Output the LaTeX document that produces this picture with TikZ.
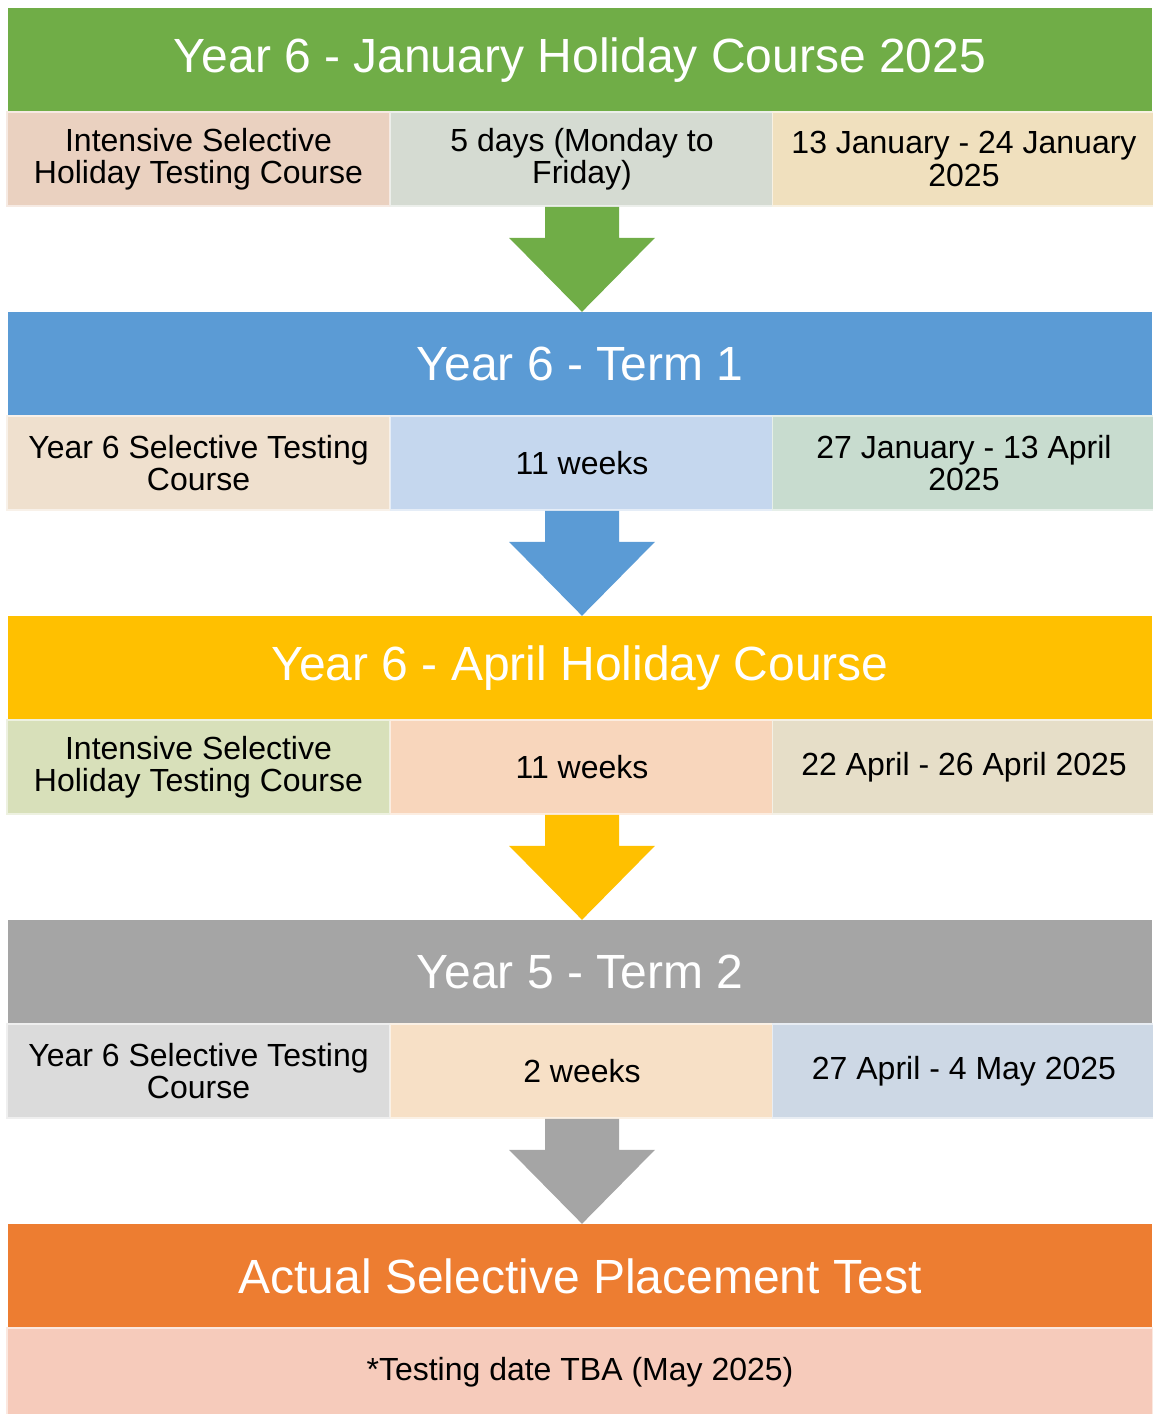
\documentclass[tikz,border=0pt]{standalone}
\usepackage{fontspec}
\setmainfont{Liberation Sans}
\definecolor{hdgreen}{HTML}{70AD47}
\definecolor{hdblue}{HTML}{5B9BD5}
\definecolor{hdgold}{HTML}{FFC000}
\definecolor{hdgrey}{HTML}{A5A5A5}
\definecolor{hdorange}{HTML}{ED7D31}
\definecolor{cellrose}{HTML}{EAD1C0}
\definecolor{cellsage}{HTML}{D5DBD2}
\definecolor{cellwheat}{HTML}{F0E0BE}
\definecolor{cellsand}{HTML}{EFE0CE}
\definecolor{cellsky}{HTML}{C5D7EE}
\definecolor{cellmint}{HTML}{C8DCCF}
\definecolor{cellolive}{HTML}{D8E0BA}
\definecolor{cellpeach}{HTML}{F8D6BC}
\definecolor{cellbeige}{HTML}{E6DEC8}
\definecolor{cellsilver}{HTML}{DBDBDB}
\definecolor{cellcream}{HTML}{F7E0C6}
\definecolor{cellsteel}{HTML}{CDD8E5}
\definecolor{cellsalmon}{HTML}{F6CBBB}
\newcommand{\flowarrow}[3]{\fill[#1] ([xshift=-37pt]#2.south) -- ([xshift=-37pt,yshift=-31pt]#2.south) -- ([xshift=-73pt,yshift=-31pt]#2.south) -- (#2.south |- #3.north) -- ([xshift=73pt,yshift=-31pt]#2.south) -- ([xshift=37pt,yshift=-31pt]#2.south) -- ([xshift=37pt]#2.south) -- cycle;}

\begin{document}
\begin{tikzpicture}[x=1pt,y=-1pt,
  head/.style={fill=#1,text=white,minimum width=1144pt,minimum height=104pt,inner sep=0pt,font=\fontsize{48}{54}\selectfont},
  cell/.style={fill=#1,draw=#1!45!white,line width=1.5pt,minimum width=383pt,minimum height=94pt,inner sep=0pt,align=center,font=\fontsize{32}{32.5}\selectfont}]
\useasboundingbox (0,0) rectangle (1152,1414);
\node[head=hdgreen] (h1) at (580,60) {Year 6 - January Holiday Course 2025};
\node[cell=cellrose] (r1a) at (198.5,159) {Intensive Selective\\Holiday Testing Course};
\node[cell=cellsage] (r1b) at (582,159) {5 days (Monday to\\Friday)};
\node[cell=cellwheat] (r1c) at (964,159) {13 January - 24 January\\2025};
\node[head=hdblue] (h2) at (580,364) {Year 6 - Term 1};
\node[cell=cellsand] (r2a) at (198.5,463) {Year 6 Selective Testing\\Course};
\node[cell=cellsky] (r2b) at (582,463) {11 weeks};
\node[cell=cellmint] (r2c) at (964,463) {27 January - 13 April\\2025};
\node[head=hdgold] (h3) at (580,668) {Year 6 - April Holiday Course};
\node[cell=cellolive] (r3a) at (198.5,767) {Intensive Selective\\Holiday Testing Course};
\node[cell=cellpeach] (r3b) at (582,767) {11 weeks};
\node[cell=cellbeige] (r3c) at (964,767) {22 April - 26 April 2025};
\node[head=hdgrey] (h4) at (580,972) {Year 5 - Term 2};
\node[cell=cellsilver] (r4a) at (198.5,1071) {Year 6 Selective Testing\\Course};
\node[cell=cellcream] (r4b) at (582,1071) {2 weeks};
\node[cell=cellsteel] (r4c) at (964,1071) {27 April - 4 May 2025};
\node[head=hdorange] (h5) at (580,1276) {Actual Selective Placement Test};
\node[cell=cellsalmon,minimum width=1146pt,minimum height=88pt] (r5) at (580,1372) {*Testing date TBA (May 2025)};
\flowarrow{hdgreen}{r1b}{h2}
\flowarrow{hdblue}{r2b}{h3}
\flowarrow{hdgold}{r3b}{h4}
\flowarrow{hdgrey}{r4b}{h5}
\end{tikzpicture}
\end{document}
